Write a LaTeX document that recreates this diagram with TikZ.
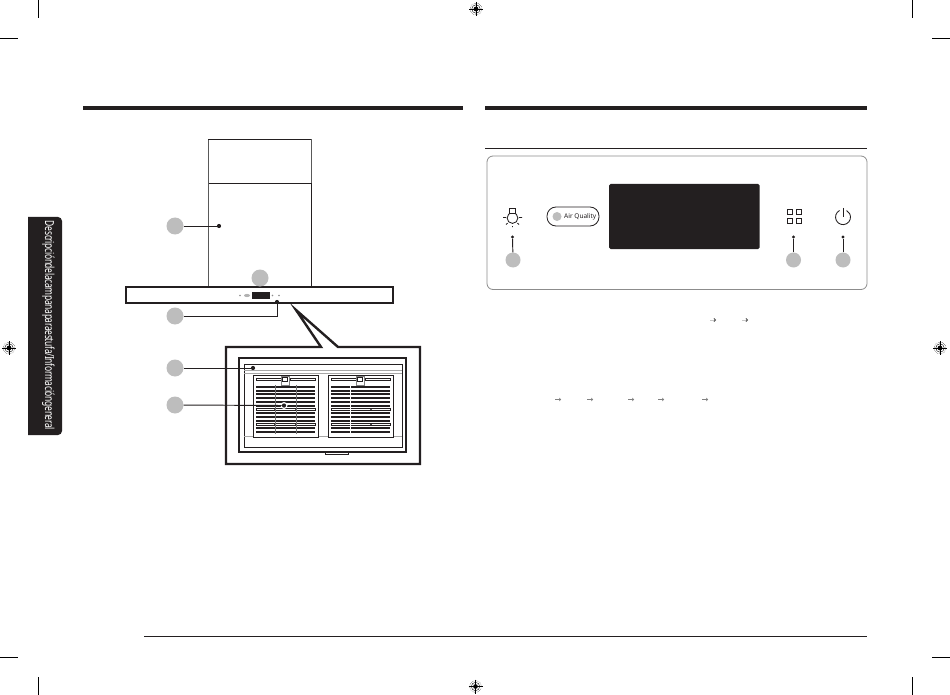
\documentclass[tikz,border=0pt]{standalone}
\usepackage{fontspec}
\setmainfont{Noto Sans}
\usetikzlibrary{arrows.meta}
\definecolor{ink}{HTML}{231F20}
\definecolor{mark}{HTML}{BDBDBD}
\tikzset{
  x=1pt,y=-1pt,
  callout/.style={circle,fill=mark,minimum size=17pt,inner sep=0pt,draw=none},
  small callout/.style={circle,fill=mark,minimum size=15pt,inner sep=0pt,draw=none},
  leader/.style={draw=ink,line width=0.95pt},
  tip/.style={circle,fill=ink,minimum size=4.2pt,inner sep=0pt,draw=none},
  crop/.style={draw=black,line width=0.9pt},
  hood/.style={draw=ink,line width=0.9pt},
  thick frame/.style={draw=ink,line width=2.4pt,line join=miter},
  icon/.style={draw=ink,line width=0.85pt},
  slat/.style={draw=ink,line width=2pt},
  thin slat/.style={draw=ink,line width=0.6pt},
  step arrow/.style={draw=gray,line width=0.45pt,-{Straight Barb[length=1.5pt,width=3pt]}},
  pale arrow/.style={draw=black!22,line width=0.8pt,-{Straight Barb[length=1.5pt,width=3pt,black!70]}},
}
\newcommand{\regmark}[1]{%
  \begin{scope}[shift={(#1)}]
    \draw[black,line width=0.4pt] (0,0) circle[radius=4.2];
    \draw[black,line width=0.4pt,densely dotted] (0,0) circle[radius=5.8];
    \draw[black,line width=0.6pt] (-7,0) -- (7,0) (0,-7) -- (0,7);
    \fill[black] (0,0) circle[radius=2.4];
  \end{scope}}
\newcommand{\filterpanel}[3]{%
  \draw[hood] (#1,375) rectangle (#2,437);
  \foreach \yy in {386.7,390.5,394.3,398,401.7,405.5,413,417,420.7,428,432}
    \draw[slat] ({#1+3},\yy) -- ({#2-3},\yy);
  \draw[thin slat,line width=0.8pt] ({#1+3},378) rectangle ({#1+28},380.4);
  \draw[thin slat,line width=0.8pt] ({#1+37},378) rectangle ({#2-3},380.4);
  \foreach \yy in {409.2,424.5}{
    \draw[thin slat,line width=0.8pt] ({#1+3},{\yy-1.2}) rectangle ({#2-3},{\yy+1.2});
    \fill[ink] (#3,\yy) circle[radius=0.9];
  }
  \draw[thin slat,draw=black!50] ({#1+28.5},376.5) rectangle ({#1+36},385);
  \draw[thin slat,line width=0.9pt,fill=white] ({#1+29.8},377.5) rectangle ({#1+34.7},381.8);
}
\begin{document}
\begin{tikzpicture}
\useasboundingbox (0,0) rectangle (950,695);
\fill[white] (0,0) rectangle (950,695);
% crop marks
\draw[crop] (38,0) -- (38,18) (0,38) -- (18,38);
\draw[crop] (912,0) -- (912,18) (932,38) -- (950,38);
\draw[crop] (38,677) -- (38,695) (0,657) -- (18,657);
\draw[crop] (912,677) -- (912,695) (932,657) -- (950,657);
\regmark{476,9}
\regmark{475.5,686.5}
\regmark{9,348}
\regmark{940,348}
% section rules
\fill[ink] (83,106) rectangle (463,110.5);
\fill[ink] (485,106) rectangle (867,110.5);
\draw[draw=ink,line width=0.7pt] (485,148.5) -- (867,148.5);
\draw[draw=ink,line width=0.8pt] (144,636) -- (867,636);
% side tab
\fill[ink,rounded corners=4pt] (20,217) -- (62,217) -- (62,435) -- (20,435) -- cycle;
\fill[white] (18,215) rectangle (28,437);
\node[text=white,rotate=-90,inner sep=0pt] (tab) at (48.5,325.5)
  {\resizebox{209pt}{9.5pt}{\addfontfeature{LetterSpace=-4}Descripcióndelacampanaparaestufa/Informacióngeneral}};
% hood
\draw[hood,draw=black!65] (208,139) rectangle (311,183);
\draw[hood] (208,139) -- (311,139) (208,183) -- (311,183);
\draw[hood,draw=black!65] (208,183) -- (208,287);
\draw[hood] (311,183) -- (311,287);
\draw[hood,line width=1.1pt,fill=white] (126,287) rectangle (393,303);
\fill[ink] (252,292.3) rectangle (270,299.3);
\fill[black!45] (240,295.5) circle[radius=0.8] (272.5,295.5) circle[radius=0.9] (279,295.5) circle[radius=0.9];
\fill[black!30] (247,295.5) ellipse[x radius=3,y radius=1.6];
% callout frame
\draw[thick frame,fill=white] (226,347) -- (321,347) -- (296,310) -- (338,347) -- (420,347) -- (420,464) -- (226,464) -- cycle;
\draw[hood,line width=1.1pt] (239,358) rectangle (406,452);
\draw[hood,line width=0.7pt] (244,364) rectangle (402,447);
\draw[draw=black!35,line width=0.6pt] (244,370) -- (402,370) (244,373) -- (402,373);
\draw[draw=black!35,line width=0.6pt] (244,436) -- (253,436) (393,436) -- (402,436) (318,436) -- (328,436);
\draw[hood,line width=0.6pt] (325,452) -- (325,454) -- (348,454) -- (348,452);
\filterpanel{253}{318}{275}
\fill[ink] (296,409.2) circle[radius=0.9] (296,424.5) circle[radius=0.9];
\draw[black!55,line width=0.5pt] (275,385) -- (275,434) (296,385) -- (296,434);
\filterpanel{328}{393}{371}
\draw[white,line width=0.7pt] (350,384) -- (350,435);
% hood callouts
\node[callout] (c1) at (175,226) {};
\node[tip] (t1) at (219,226) {};
\draw[leader] (c1) -- (t1);
\node[callout] (c2) at (260,278) {};
\node[callout] (c3) at (175,316) {};
\node[tip] (t3) at (277,302) {};
\draw[leader] (c3) -- (277,316) -- (t3);
\node[callout] (c4) at (175,368) {};
\node[tip] (t4) at (253,368) {};
\draw[leader] (c4) -- (t4);
\node[callout] (c5) at (175,405) {};
\node[circle,fill=white,minimum size=7pt,inner sep=0pt] (h5) at (284,405.5) {};
\node[tip] (t5) at (284,405.5) {};
\draw[leader] (c5) -- (t5);
% control panel
\draw[draw=black!45,line width=0.8pt,rounded corners=6pt] (487,156) rectangle (867,289.5);
\fill[ink,rounded corners=1.5pt] (609,184) rectangle (759.5,249);
% lamp icon
\draw[icon] (512.5,218) circle[radius=5.4];
\draw[icon,fill=white] (509.3,208) rectangle (515.7,213);
\draw[icon] (503,217.5) -- (506,217.5) (519,217.5) -- (522,217.5)
  (506,224.5) -- (507.5,223.2) (519,224.5) -- (517.5,223.2) (512.5,226) -- (512.5,227);
% air quality
\node[draw=ink,line width=0.8pt,rounded corners=9pt,minimum width=52pt,minimum height=19pt,inner sep=0pt] (pill) at (573,216.5) {};
\node[circle,fill=mark,minimum size=9pt,inner sep=0pt] (aq) at (557,216.5) {};
\node[anchor=west,inner sep=0pt,font=\bfseries,text=ink] (aqt) at (564,216.5) {\resizebox{32pt}{!}{Air Quality}};
% grid icon
\foreach \xx in {787.3,796.2}\foreach \yy in {209,218}
  \draw[icon] (\xx,\yy) rectangle ({\xx+5},{\yy+5});
% power icon
\draw[icon] (839.5,210.5) arc[start angle=-118,end angle=-422,radius=7.5];
\draw[icon] (843,208) -- (843,217);
% panel callouts
\node[small callout] (p1) at (513,260) {};
\node[tip,minimum size=3.4pt] (q1) at (512.5,237) {};
\draw[leader] (p1) -- (q1);
\node[small callout] (p2) at (793.5,260) {};
\node[tip,minimum size=3.4pt] (q2) at (793.5,237) {};
\draw[leader] (p2) -- (q2);
\node[small callout] (p3) at (843,260) {};
\node[tip,minimum size=3.4pt] (q3) at (843,237) {};
\draw[leader] (p3) -- (q3);
% text arrows
\draw[pale arrow] (710,320) -- (716,320);
\draw[pale arrow] (742,320) -- (748,320);
\foreach \xx in {555,587,628,658,702}
  \draw[step arrow] (\xx,399.5) -- ({\xx+6},399.5);
\end{tikzpicture}
\end{document}
